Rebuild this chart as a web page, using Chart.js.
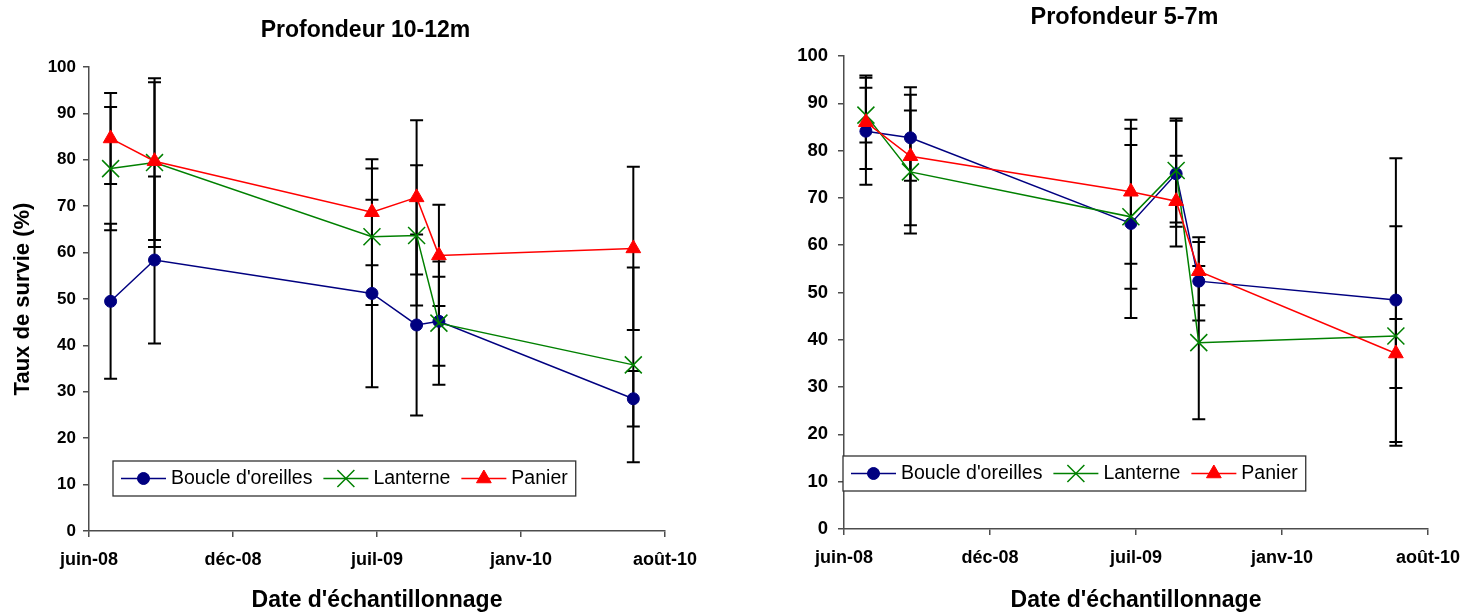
<!DOCTYPE html>
<html lang="fr">
<head>
<meta charset="utf-8">
<title>Taux de survie</title>
<script src="https://cdn.jsdelivr.net/npm/chart.js@4"></script>
<style>
  html, body { margin: 0; padding: 0; background: #fff; }
  #wrap { position: relative; width: 1463px; height: 614px; overflow: hidden; }
  #deepChart { position: absolute; left: 0; top: 0; }
  #shallowChart { position: absolute; left: 731px; top: 0; }
</style>
</head>
<body>
<div id="wrap">
  <canvas id="deepChart" width="731" height="614"></canvas>
  <canvas id="shallowChart" width="732" height="614"></canvas>
</div>
<script>
// sampling dates, x axis runs in days from axisStart
const axisStart = '2008-06-01';
const sampleDates = ['2008-07-01', '2008-08-31', '2009-06-29', '2009-08-30', '2009-09-30', '2010-06-27'];
const dateTickLabels = ['juin-08', 'déc-08', 'juil-09', 'janv-10', 'août-10'];
const seriesNames = ["Boucle d'oreilles", 'Lanterne', 'Panier'];

// Profondeur 10-12m
const deepBoucle = [49.5, 58.4, 51.2, 44.4, 45.2, 28.5];
const deepBoucleErr = [16.7, 18.0, 20.2, 19.5, 9.6, 6.0];
const deepLanterne = [78.1, 79.4, 63.4, 63.7, 44.8, 35.8];
const deepLanterneErr = [13.3, 18.2, 14.7, 15.1, 13.3, 21.0];
const deepPanier = [84.6, 79.7, 68.7, 71.9, 59.4, 60.9];
const deepPanierErr = [9.8, 17.0, 11.4, 16.6, 10.9, 17.6];

// Profondeur 5-7m
const shallowBoucle = [84.1, 82.7, 64.6, 75.1, 52.4, 48.4];
const shallowBoucleErr = [11.3, 9.1, 20.0, 11.2, 8.3, 30.0];
const shallowLanterne = [87.5, 75.5, 66.0, 75.8, 39.4, 40.8];
const shallowLanterneErr = [5.8, 13.0, 15.2, 11.0, 16.2, 23.2];
const shallowPanier = [86.0, 78.8, 71.3, 69.3, 54.5, 37.1];
const shallowPanierErr = [9.9, 14.6, 15.2, 9.6, 7.2, 7.3];

const FONT = '"Liberation Sans", Arial, sans-serif';
const AXIS_COLOR = '#4d4d4d';
Chart.defaults.font.family = FONT;
Chart.defaults.color = '#000';

const dayMs = 24 * 3600 * 1000;
const dayOffsets = sampleDates.map(d => Math.round((Date.parse(d) - Date.parse(axisStart)) / dayMs));

const toPoints = values => values.map((v, i) => ({ x: dayOffsets[i], y: v }));

const seriesStyles = [
  { color: '#000080', pointStyle: 'circle', pointRadius: 6, pointBorderWidth: 1, order: 3 },
  { color: '#008000', pointStyle: 'crossRot', pointRadius: 12, pointBorderWidth: 1.5, order: 2 },
  { color: '#ff0000', pointStyle: 'triangle', pointRadius: 8.5, pointBorderWidth: 1, order: 1 }
];

function makeDatasets(valueSets, errorSets) {
  return valueSets.map((values, i) => {
    const s = seriesStyles[i];
    return {
      label: seriesNames[i],
      data: toPoints(values),
      errors: errorSets[i],
      borderColor: s.color,
      backgroundColor: s.color,
      borderWidth: 1.5,
      pointStyle: s.pointStyle,
      pointRadius: s.pointRadius,
      pointHoverRadius: s.pointRadius,
      pointBackgroundColor: s.color,
      pointBorderColor: s.color,
      pointBorderWidth: s.pointBorderWidth,
      order: s.order,
      tension: 0
    };
  });
}

// vertical error bars with caps, drawn under the lines
const errorBarPlugin = {
  id: 'errorBars',
  beforeDatasetsDraw(chart) {
    const { ctx, scales } = chart;
    ctx.save();
    ctx.strokeStyle = '#000';
    ctx.lineWidth = 2;
    chart.data.datasets.forEach(ds => {
      ds.data.forEach((p, i) => {
        const e = ds.errors[i];
        const x = scales.x.getPixelForValue(p.x);
        const yTop = scales.y.getPixelForValue(p.y + e);
        const yBot = scales.y.getPixelForValue(p.y - e);
        ctx.beginPath();
        ctx.moveTo(x, yTop); ctx.lineTo(x, yBot);
        ctx.moveTo(x - 6.5, yTop); ctx.lineTo(x + 6.5, yTop);
        ctx.moveTo(x - 6.5, yBot); ctx.lineTo(x + 6.5, yBot);
        ctx.stroke();
      });
    });
    ctx.restore();
  }
};

// chart heading placed freely on the canvas
const headingPlugin = {
  id: 'heading',
  afterDraw(chart, args, opts) {
    const ctx = chart.ctx;
    ctx.save();
    ctx.font = 'bold ' + opts.size + 'px ' + FONT;
    ctx.fillStyle = '#000';
    ctx.textAlign = 'center';
    ctx.textBaseline = 'middle';
    ctx.fillText(opts.text, opts.x, opts.y);
    ctx.restore();
  }
};

// boxed legend inside the plot area, bottom left
const legendBoxPlugin = {
  id: 'legendBox',
  afterDraw(chart, args, opts) {
    const { ctx, chartArea } = chart;
    const items = chart.data.datasets;
    ctx.save();
    ctx.font = '19.5px ' + FONT;
    let w = 8;
    items.forEach((ds, i) => {
      w += 50 + ctx.measureText(ds.label).width + (i < items.length - 1 ? 11 : 8);
    });
    const h = 35;
    const x0 = chartArea.left + opts.offsetX;
    const y0 = chartArea.bottom - opts.offsetBottom - h;
    ctx.fillStyle = '#fff';
    ctx.fillRect(x0, y0, w, h);
    ctx.strokeStyle = '#333';
    ctx.lineWidth = 1.3;
    ctx.strokeRect(x0, y0, w, h);
    const cy = y0 + h / 2;
    let x = x0 + 8;
    items.forEach(ds => {
      ctx.strokeStyle = ds.borderColor;
      ctx.lineWidth = ds.borderWidth;
      ctx.beginPath();
      ctx.moveTo(x, cy); ctx.lineTo(x + 45, cy);
      ctx.stroke();
      ctx.fillStyle = ds.pointBackgroundColor;
      ctx.strokeStyle = ds.pointBorderColor;
      ctx.lineWidth = ds.pointBorderWidth;
      Chart.helpers.drawPoint(ctx, {
        pointStyle: ds.pointStyle,
        radius: ds.pointRadius,
        borderWidth: ds.pointBorderWidth,
        rotation: 0
      }, x + 22.5, cy);
      ctx.fillStyle = '#000';
      ctx.textAlign = 'left';
      ctx.textBaseline = 'middle';
      ctx.fillText(ds.label, x + 50, cy);
      x += 50 + ctx.measureText(ds.label).width + 11;
    });
    ctx.restore();
  }
};

function buildChart(canvasId, cfg) {
  const canvas = document.getElementById(canvasId);
  return new Chart(canvas, {
    type: 'line',
    data: { datasets: makeDatasets(cfg.values, cfg.errors) },
    plugins: [errorBarPlugin, headingPlugin, legendBoxPlugin],
    options: {
      responsive: false,
      animation: false,
      devicePixelRatio: 1,
      layout: { padding: cfg.padding },
      plugins: {
        legend: { display: false },
        tooltip: { enabled: false },
        title: { display: false },
        heading: cfg.heading,
        legendBox: cfg.legend
      },
      scales: {
        x: {
          type: 'linear',
          min: 0,
          max: 800,
          afterFit: scale => {
            scale.height = cfg.xAxisHeight;
            scale.paddingLeft = 0;
            scale.paddingRight = 0;
          },
          ticks: {
            stepSize: 200,
            font: { size: 18, weight: 'bold' },
            color: '#000',
            padding: 12,
            maxRotation: 0,
            callback: v => dateTickLabels[v / 200]
          },
          grid: { drawOnChartArea: false, drawTicks: true, tickLength: 6, color: AXIS_COLOR, lineWidth: 1.5 },
          border: { display: true, color: AXIS_COLOR, width: 1.5 },
          title: {
            display: true,
            text: "Date d'échantillonnage",
            font: { size: 23, weight: 'bold' },
            color: '#000',
            padding: { top: 0, bottom: 0 }
          }
        },
        y: {
          min: 0,
          max: 100,
          afterFit: scale => { scale.width = cfg.yAxisWidth; },
          ticks: {
            stepSize: 10,
            font: { size: cfg.yTickSize, weight: 'bold' },
            color: '#000',
            padding: cfg.yTickPadding
          },
          grid: { drawOnChartArea: false, drawTicks: true, tickLength: 6, color: AXIS_COLOR, lineWidth: 1.5 },
          border: { display: true, color: AXIS_COLOR, width: 1.5 },
          title: cfg.yTitle
        }
      }
    }
  });
}

buildChart('deepChart', {
  values: [deepBoucle, deepLanterne, deepPanier],
  errors: [deepBoucleErr, deepLanterneErr, deepPanierErr],
  padding: { top: 67, right: 66, bottom: 0, left: 0 },
  xAxisHeight: 83,
  yAxisWidth: 89,
  yTickSize: 17,
  yTickPadding: 7,
  yTitle: {
    display: true,
    text: 'Taux de survie (%)',
    font: { size: 22, weight: 'bold' },
    color: '#000',
    padding: { top: 10, bottom: 0 }
  },
  heading: { text: 'Profondeur 10-12m', x: 365.5, y: 30.5, size: 23 },
  legend: { offsetX: 24, offsetBottom: 35 }
});

buildChart('shallowChart', {
  values: [shallowBoucle, shallowLanterne, shallowPanier],
  errors: [shallowBoucleErr, shallowLanterneErr, shallowPanierErr],
  padding: { top: 56, right: 35, bottom: 0, left: 0 },
  xAxisHeight: 85,
  yAxisWidth: 113,
  yTickSize: 18.5,
  yTickPadding: 10,
  yTitle: { display: false },
  heading: { text: 'Profondeur 5-7m', x: 393.5, y: 17.5, size: 23.5 },
  legend: { offsetX: -1, offsetBottom: 38 }
});
</script>
</body>
</html>
